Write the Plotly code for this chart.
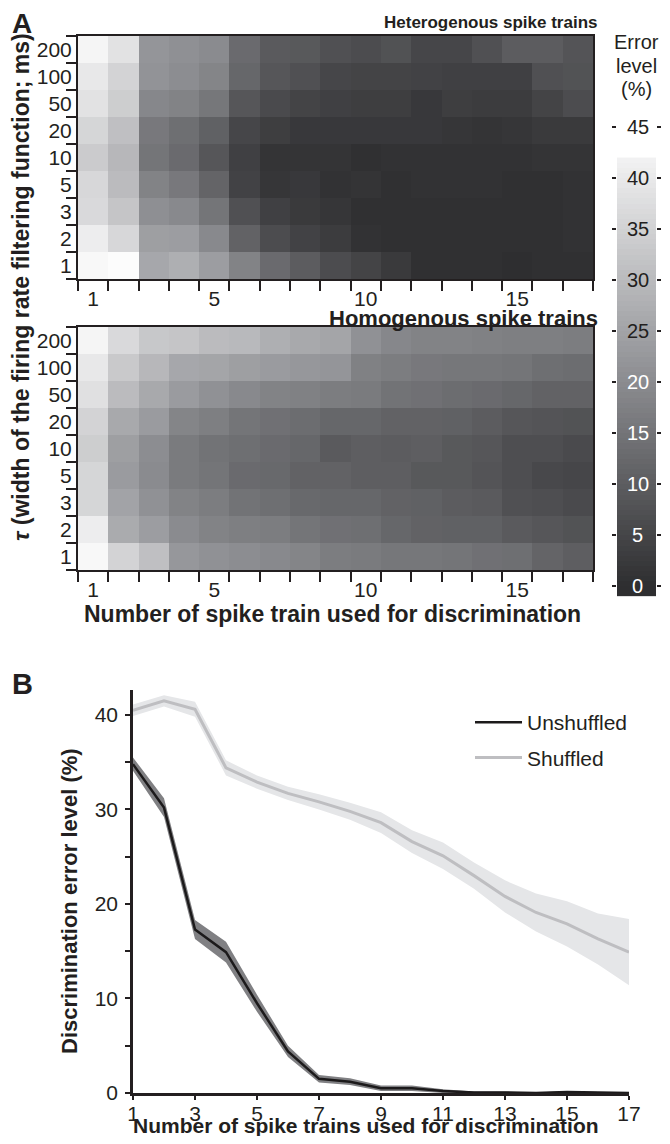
import numpy as np
import plotly.graph_objects as go

# The page body has an 8px default margin: the figure is sized to fit inside
# the 670x1144 window and page pixel positions are mapped onto it.
OFF = 8
W, H = 670 - OFF, 1144 - 2 * OFF


def fx(px):
    return (px - OFF) / W


def fy(py):
    return 1 - (py - OFF) / H


FONT = "Liberation Sans, Arial, sans-serif"
INK = "#231f20"

# ---------------- data ----------------
n_trains = list(range(1, 18))
tau_labels = ["200", "100", "50", "20", "10", "5", "3", "2", "1"]  # top -> bottom

# Error level (%) for heterogenous spike trains, rows top (200 ms) -> bottom (1 ms)
hetero = [
    [42.5, 38.4, 22.0, 20.9, 19.8, 12.9, 9.5, 9.1, 7.3, 6.5, 7.6, 5.2, 5.2, 7.3, 9.9, 9.9, 8.2],
    [39.7, 35.3, 21.6, 20.3, 18.5, 12.1, 8.6, 7.3, 5.2, 4.7, 4.7, 4.3, 3.9, 3.9, 3.9, 7.3, 7.8],
    [38.4, 34.1, 19.0, 18.1, 15.5, 8.6, 6.0, 4.7, 3.9, 3.4, 3.4, 2.2, 3.4, 3.0, 3.0, 4.7, 6.5],
    [35.8, 31.0, 15.9, 13.8, 10.8, 5.2, 3.4, 2.2, 2.2, 2.2, 2.2, 2.2, 1.7, 1.3, 1.7, 2.6, 2.6],
    [33.6, 29.3, 15.1, 12.9, 8.6, 3.9, 1.3, 1.3, 1.3, 0.4, 0.9, 0.9, 0.9, 0.9, 0.9, 1.3, 1.3],
    [36.2, 30.2, 18.1, 15.9, 11.6, 4.3, 1.7, 2.2, 0.9, 1.3, 0.4, 0.9, 0.9, 0.9, 0.4, 0.4, 0.9],
    [36.6, 32.3, 20.7, 19.4, 15.1, 7.3, 3.9, 2.6, 1.7, 0.4, 0.4, 0.4, 0.4, 0.4, 0.4, 0.4, 0.9],
    [40.9, 36.2, 24.1, 23.7, 19.4, 11.2, 6.5, 4.3, 3.0, 0.9, 0.4, 0.4, 0.4, 0.4, 0.4, 0.4, 0.9],
    [43.1, 44.6, 25.9, 27.6, 23.7, 18.1, 12.9, 9.9, 6.5, 4.7, 2.6, 0.4, 0.4, 0.4, 0.0, 0.4, 0.4],
]

# Error level (%) for homogenous spike trains, rows top (200 ms) -> bottom (1 ms)
homo = [
    [42.5, 36.6, 32.8, 32.3, 30.2, 29.7, 27.6, 26.3, 25.4, 21.1, 19.0, 18.1, 18.1, 17.7, 17.2, 17.2, 16.8],
    [39.7, 33.2, 29.3, 25.9, 25.4, 24.1, 23.3, 22.4, 22.0, 17.7, 16.8, 15.9, 15.5, 15.5, 15.1, 13.8, 13.4],
    [38.1, 30.2, 26.3, 23.3, 21.1, 19.4, 18.1, 17.7, 16.8, 16.4, 14.7, 14.2, 13.4, 12.9, 12.1, 11.2, 11.2],
    [35.3, 26.3, 23.3, 18.5, 17.2, 15.1, 14.2, 13.4, 12.1, 12.1, 11.2, 11.2, 10.8, 9.9, 8.6, 8.2, 7.8],
    [34.1, 24.1, 20.3, 16.4, 14.7, 13.8, 12.9, 12.1, 9.5, 10.3, 9.9, 10.3, 9.1, 8.6, 6.9, 6.9, 6.0],
    [35.8, 23.3, 19.8, 16.4, 15.1, 12.9, 12.5, 11.2, 11.2, 10.3, 10.3, 9.1, 9.1, 8.2, 6.9, 5.6, 5.2],
    [35.8, 25.0, 21.1, 18.1, 16.8, 14.7, 13.8, 12.5, 12.1, 12.1, 11.2, 10.8, 9.9, 9.5, 7.3, 6.9, 6.0],
    [40.9, 26.7, 23.7, 19.8, 18.1, 17.2, 16.8, 15.1, 14.2, 13.8, 12.1, 11.2, 10.8, 10.8, 9.5, 8.6, 7.8],
    [43.1, 35.3, 31.0, 22.4, 21.1, 20.3, 19.4, 18.5, 16.8, 16.4, 15.5, 15.5, 15.1, 14.2, 13.8, 11.6, 10.3],
]

cbar_ticks = [0, 5, 10, 15, 20, 25, 30, 35, 40, 45]
cbar_top = 42  # highest level shown in the colour bar
cbar_bottom = -1

# Panel B
n_lines = list(range(1, 18))
unshuf_mean = [34.8, 30.2, 17.3, 14.9, 9.5, 4.4, 1.5, 1.2, 0.5, 0.5, 0.2, 0.05, 0.05, 0.0, 0.1, 0.05, 0.0]
unshuf_sem = [0.7, 1.0, 1.0, 1.1, 0.9, 0.6, 0.4, 0.35, 0.3, 0.3, 0.2, 0.1, 0.1, 0.05, 0.1, 0.05, 0.05]
shuf_mean = [40.5, 41.5, 40.6, 34.4, 32.9, 31.7, 30.8, 29.8, 28.6, 26.6, 25.1, 23.0, 20.8, 19.1, 17.9, 16.3, 14.9]
shuf_sem = [0.6, 0.6, 0.8, 0.8, 0.7, 0.7, 0.8, 0.9, 1.1, 1.2, 1.4, 1.4, 1.7, 2.0, 2.4, 2.7, 3.5]

# ---------------- figure ----------------
gray_scale = [[0.0, "rgb(46,46,48)"], [0.5, "rgb(148,149,153)"], [1.0, "rgb(252,252,252)"]]
ZMIN, ZMAX = 0, 44

fig = go.Figure()
rows_y = list(range(1, len(tau_labels) + 1))

fig.add_trace(go.Heatmap(z=hetero[::-1], x=n_trains, y=rows_y, colorscale=gray_scale,
                         zmin=ZMIN, zmax=ZMAX, showscale=False, xaxis="x", yaxis="y"))
fig.add_trace(go.Heatmap(z=homo[::-1], x=n_trains, y=rows_y, colorscale=gray_scale,
                         zmin=ZMIN, zmax=ZMAX, showscale=False, xaxis="x2", yaxis="y2"))

# colour bar drawn as a banded heatmap
edges = np.arange(cbar_bottom, cbar_top + 0.001, 0.5)
centers = (edges[:-1] + edges[1:]) / 2
cb_z = [[max(c, 0)] for c in centers]
fig.add_trace(go.Heatmap(z=cb_z, x=[0], y=centers, colorscale=gray_scale, zmin=ZMIN, zmax=ZMAX,
                         showscale=False, xaxis="x3", yaxis="y3", hoverinfo="skip"))


# Panel B bands + lines
def band(x, m, s):
    up = [a + b for a, b in zip(m, s)]
    lo = [max(a - b, 0) for a, b in zip(m, s)]
    return list(x) + list(x)[::-1], up + lo[::-1]


bx, by = band(n_lines, shuf_mean, shuf_sem)
fig.add_trace(go.Scatter(x=bx, y=by, fill="toself", fillcolor="rgb(229,230,232)", line=dict(width=0),
                         mode="lines", showlegend=False, hoverinfo="skip", xaxis="x4", yaxis="y4"))
fig.add_trace(go.Scatter(x=n_lines, y=shuf_mean, mode="lines", name="Shuffled",
                         line=dict(color="rgb(190,190,193)", width=3), legendrank=2, legendgroup="s",
                         xaxis="x4", yaxis="y4"))
bx, by = band(n_lines, unshuf_mean, unshuf_sem)
fig.add_trace(go.Scatter(x=bx, y=by, fill="toself", fillcolor="rgb(128,128,131)", line=dict(width=0),
                         mode="lines", showlegend=False, hoverinfo="skip", xaxis="x4", yaxis="y4"))
fig.add_trace(go.Scatter(x=n_lines, y=unshuf_mean, mode="lines", name="Unshuffled",
                         line=dict(color="rgb(28,26,27)", width=2.5), legendrank=1, legendgroup="u",
                         xaxis="x4", yaxis="y4"))

# ---------------- axes ----------------
col_edges = [c - 0.5 for c in n_trains] + [n_trains[-1] + 0.5]
row_edges = [r - 0.5 for r in rows_y] + [rows_y[-1] + 0.5]
tickfont = dict(family=FONT, size=21, color=INK)


def hm_xaxis(anchor):
    return dict(domain=[fx(78), fx(593)], anchor=anchor, range=[0.5, 17.5], automargin=False,
                tickvals=[1, 5, 10, 15], ticks="outside", ticklen=0, tickcolor=INK,
                minor=dict(tickvals=col_edges, ticks="outside", ticklen=10, tickwidth=2, tickcolor=INK),
                showline=True, mirror=True, linewidth=2, linecolor=INK,
                showgrid=False, zeroline=False, tickfont=tickfont)


def hm_yaxis(anchor, top_px, bot_px):
    return dict(domain=[fy(bot_px), fy(top_px)], anchor=anchor, range=[0.5, 9.5], automargin=False,
                tickvals=rows_y, ticktext=tau_labels[::-1], ticks="outside", ticklen=0, tickcolor=INK,
                minor=dict(tickvals=row_edges, ticks="outside", ticklen=10, tickwidth=2, tickcolor=INK),
                showline=True, mirror=True, linewidth=2, linecolor=INK,
                showgrid=False, zeroline=False, tickfont=tickfont)


CB_L, CB_R = 617, 656  # colour bar edges (page px)
CB_MID = (CB_L + CB_R) / 2

fig.update_layout(
    xaxis=hm_xaxis("y"),
    yaxis=hm_yaxis("x", 36, 279),
    xaxis2=hm_xaxis("y2"),
    yaxis2=hm_yaxis("x2", 327, 570),
    xaxis3=dict(domain=[fx(CB_L), fx(CB_R)], anchor="y3", range=[-0.5, 0.5], visible=False, automargin=False),
    yaxis3=dict(domain=[fy(596.2), fy(96.4)], anchor="x3", range=[-1, 48], tickvals=cbar_ticks,
                ticks="outside", ticklen=4, tickwidth=2, tickcolor=INK, mirror="ticks", automargin=False,
                showline=False, showticklabels=False, showgrid=False, zeroline=False),
    xaxis4=dict(domain=[fx(133), fx(629)], anchor="y4", range=[1, 17], tickvals=list(range(1, 18, 2)),
                ticks="outside", ticklen=0, tickcolor=INK,
                minor=dict(tickvals=list(range(1, 18, 2)), ticks="outside", ticklen=4, tickwidth=2,
                           tickcolor=INK),
                showline=True, linewidth=2.5,
                linecolor=INK, showgrid=False, zeroline=False, tickfont=tickfont, automargin=False),
    yaxis4=dict(domain=[fy(1093), fy(690.4)], anchor="x4", range=[0, 42.6], tickvals=[0, 10, 20, 30, 40],
                ticks="outside", ticklen=5, tickwidth=2, tickcolor=INK, automargin=False,
                minor=dict(tickvals=[5, 15, 25, 35], ticks="outside", ticklen=5, tickwidth=2, tickcolor=INK),
                showline=True, linewidth=2.5, linecolor=INK, showgrid=False, zeroline=False,
                tickfont=tickfont, ticklabelstandoff=3),
)

# ---------------- text ----------------
ann = []


def A(text, x, y, size, bold=False, angle=0, xanchor="center", color=INK, yref="paper", yval=None):
    ann.append(dict(text=f"<b>{text}</b>" if bold else text, x=fx(x), xref="paper",
                    y=fy(y) if yval is None else yval, yref=yref, xanchor=xanchor, yanchor="middle",
                    showarrow=False, textangle=angle, font=dict(family=FONT, size=size, color=color)))


A("A", 21.5, 23, 28, bold=True)
A("B", 22, 684, 29, bold=True)
A("Heterogenous spike trains", 600, 22, 17, bold=True, xanchor="right")
A("Homogenous spike trains", 600, 318, 22, bold=True, xanchor="right")
A("Number of spike train used for discrimination", 332, 614, 23, bold=True)
A("<i>τ</i> (width of the firing rate filtering function; ms)", 21, 287, 23, bold=True, angle=-90)
A("Discrimination error level (%)", 69, 901, 22, bold=True, angle=-90)
A("Number of spike trains used for discrimination", 366, 1125, 21, bold=True)
for line, yy in zip(["Error", "level", "(%)"], [42, 66, 89]):
    A(line, CB_MID, yy, 20)
for v in cbar_ticks:
    A(str(v), CB_MID + 1, 0, 20, color="white" if v <= 20 else INK, yref="y3", yval=v)

fig.update_layout(
    width=W, height=H, margin=dict(l=0, r=0, t=0, b=0, pad=0), autosize=False,
    paper_bgcolor="white", plot_bgcolor="white",
    font=dict(family=FONT, color=INK),
    annotations=ann,
    showlegend=True,
    legend=dict(x=fx(470), y=fy(702), xanchor="left", yanchor="top", bgcolor="rgba(0,0,0,0)",
                font=dict(family=FONT, size=21, color=INK), tracegroupgap=5, itemwidth=47,
                traceorder="grouped"),
)

fig.write_html("out.html")
